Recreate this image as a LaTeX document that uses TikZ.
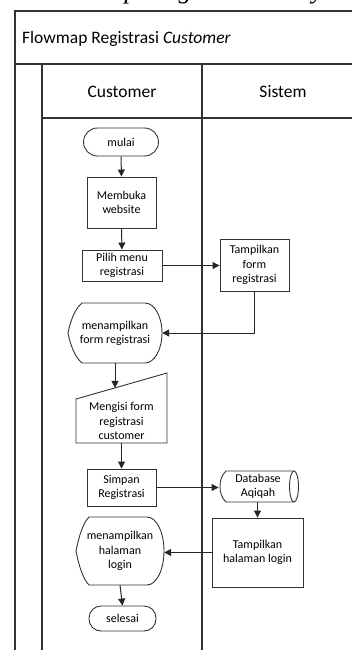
\documentclass[tikz,border=0pt]{standalone}
\usepackage{fontspec}
\setmainfont{Carlito}
\newfontfamily\capfont{Liberation Serif}
\usetikzlibrary{arrows.meta,calc}
\begin{document}
\begin{tikzpicture}[x=1pt,y=-1pt,
  lanes/.style={line width=1.3pt, draw=black!80},
  outl/.style={line width=0.9pt, draw=black!80},
  arr/.style={line width=1pt, draw=black!85, -{Triangle[length=7pt,width=7pt]}},
  lbl/.style={font=\fontsize{12}{14.2}\selectfont, align=center, inner sep=0pt},
  box/.style={outl, lbl, rectangle},
  term/.style={box, rounded corners=12pt},
  ghost/.style={lbl, rectangle, draw=none},
  head/.style={font=\fontsize{17.5}{20}\selectfont, inner sep=0pt, anchor=base},
  capt/.style={font=\capfont\itshape\fontsize{26}{26}\selectfont, inner sep=0pt, anchor=base}]
\useasboundingbox (0,0) rectangle (352,650);
\begin{scope}
\clip (0,0) rectangle (352,650);

% caption line above the frame (only its lower part lies on the page)
\node[capt] (capA) at (131,-1.8) {p};
\node[capt] (capB) at (185,-1.8) {g};
\node[capt] (capC) at (318,-1.8) {y};

% swimlane frame
\draw[lanes] (15,650) -- (15,11) -- (360,11);
\draw[lanes] (15,64) -- (360,64);
\draw[lanes] (42,118) -- (360,118);
\draw[lanes] (42,64) -- (42,650);
\draw[lanes] (202,64) -- (202,650);
\node[head, anchor=base west] (title) at (22,43.5) {Flowmap Registrasi \textit{Customer}};
\node[head] (laneC) at (122,98) {Customer};
\node[head] (laneS) at (283,98) {Sistem};

% customer lane
\node[term, minimum width=75pt, minimum height=28pt, rounded corners=14pt] (mulai) at (121,142) {mulai};
\node[box, minimum width=69pt, minimum height=51pt] (mb) at (121.5,202.5) {Membuka\\website};
\node[box, minimum width=80pt, minimum height=31pt] (pm) at (122,265.5) {Pilih menu\\registrasi};

% display: menampilkan form registrasi
\draw[outl] (68,333) .. controls (71,318) and (76,308) .. (82,303) -- (145,303)
  .. controls (154.4,303) and (162,316.4) .. (162,333)
  .. controls (162,349.6) and (154.4,363) .. (145,363) -- (82,363)
  .. controls (76,358) and (71,348) .. (68,333) -- cycle;
\node[ghost, minimum width=94pt, minimum height=60pt] (d1) at (115,333) {menampilkan\\form registrasi};

% manual input: Mengisi form registrasi customer
\draw[outl] (76,399) -- (167,373) -- (167,443) -- (76,443) -- cycle;
\node[ghost, minimum width=91pt, minimum height=44pt] (mi) at (121.5,421) {Mengisi form\\registrasi\\customer};
\coordinate (mitop) at (115,387.9);

\node[box, minimum width=69pt, minimum height=37pt] (sr) at (121.5,487.5) {Simpan\\Registrasi};

% display: menampilkan halaman login
\draw[outl] (76,551) .. controls (79,536) and (83,523) .. (89,517) -- (147,517)
  .. controls (156.4,517) and (164,532.2) .. (164,551)
  .. controls (164,569.8) and (156.4,585) .. (147,585) -- (89,585)
  .. controls (83,579) and (79,566) .. (76,551) -- cycle;
\node[ghost, minimum width=88pt, minimum height=68pt] (d2) at (120,551) {menampilkan\\halaman\\login};

\node[term, minimum width=67pt, minimum height=25pt] (sel) at (122.5,618.5) {selesai};

% system lane
\node[box, minimum width=69pt, minimum height=52pt] (tf) at (254.5,265) {Tampilkan\\form\\registrasi};

% stored data: Database Aqiqah
\draw[outl] (294,471) -- (226,471) .. controls (221.5,475) and (220,481) .. (220,486.5)
  .. controls (220,492) and (221.5,498) .. (226,502) -- (294,502);
\draw[outl] (294,486.5) ellipse [x radius=4.5, y radius=15.5];
\node[ghost, minimum width=78.5pt, minimum height=31pt] (db) at (258,486.5) {Database\\Aqiqah};

\node[box, minimum width=91pt, minimum height=69pt] (tl) at (257.5,552.5) {Tampilkan\\halaman login};

% connectors
\draw[arr] (mulai.south) -- (mb.north);
\draw[arr] (mb.south) -- (pm.north);
\draw[arr] (pm.east) -- (pm.east -| tf.west);
\draw[arr] (tf.south) |- (d1.east);
\draw[arr] (d1.south) -- (mitop);
\draw[arr] (mi.south) -- (sr.north);
\draw[arr] (sr.east) -- (sr.east -| db.west);
\draw[arr] (tl.north |- db.south) -- (tl.north);
\draw[arr] (tl.west) -- (tl.west -| d2.east);
\draw[arr] (d2.south) -- (sel.north);
\end{scope}
\end{tikzpicture}
\end{document}
